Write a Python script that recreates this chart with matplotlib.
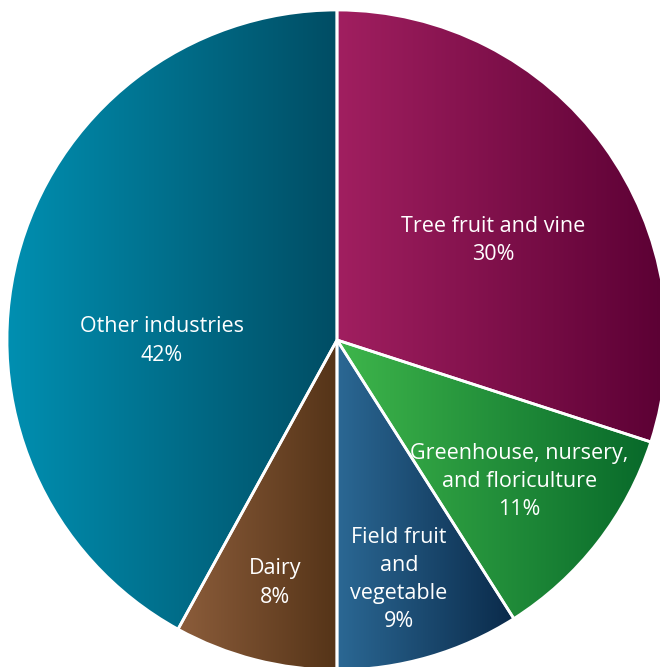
import numpy as np
import matplotlib
matplotlib.use("Agg")
import matplotlib.pyplot as plt
from matplotlib.colors import LinearSegmentedColormap

# data
labels = ["Tree fruit and vine", "Greenhouse, nursery,\nand floriculture",
          "Field fruit\nand\nvegetable", "Dairy", "Other industries"]
shares = [30, 11, 9, 8, 42]
# gradient colours (left -> right) for each slice
left_colors = ["#a11f60", "#3eb64b", "#2b6894", "#8c5d3b", "#0091b3"]
right_colors = ["#5a0033", "#08692a", "#0a2a4a", "#553418", "#004d64"]

# label placement (fraction of radius, angle override in degrees or None)
label_r = [0.56, 0.70, 0.75, 0.76, 0.53]
label_ang = [32.5, None, -75.5, None, 180.3]

W, H = 660, 667
fig = plt.figure(figsize=(W / 100, H / 100), dpi=100)
ax = fig.add_axes([0, 0, 1, 1])

cx, cy, R = 337, H - 340, 330

wedges, _ = ax.pie(shares, startangle=90, counterclock=False, center=(cx, cy),
                   radius=R, frame=True,
                   wedgeprops=dict(facecolor="none", edgecolor="white", linewidth=2.0))
ax.set_aspect("equal")
ax.axis("off")

grad = np.linspace(0, 1, 256).reshape(1, -1)
for i, w in enumerate(wedges):
    w.set_zorder(3)
    # horizontal extent of the wedge
    verts = w.get_path().vertices
    x0, x1 = verts[:, 0].min(), verts[:, 0].max()
    y0, y1 = verts[:, 1].min(), verts[:, 1].max()
    cmap = LinearSegmentedColormap.from_list(f"g{i}", [left_colors[i], right_colors[i]])
    im = ax.imshow(grad, cmap=cmap, extent=(x0, x1, y0, y1), aspect="auto",
                   interpolation="bilinear", zorder=2)
    im.set_clip_path(w)

    mid = (w.theta1 + w.theta2) / 2
    ang = np.deg2rad(label_ang[i] if label_ang[i] is not None else mid)
    tx = cx + label_r[i] * R * np.cos(ang)
    ty = cy + label_r[i] * R * np.sin(ang)
    ax.text(tx, ty, f"{labels[i]}\n{shares[i]}%", ha="center", va="center",
            color="white", fontsize=15.5, family=["Open Sans", "DejaVu Sans"],
            linespacing=1.45, zorder=4)

ax.set_xlim(0, W)
ax.set_ylim(0, H)
fig.savefig("out.png", dpi=100)
